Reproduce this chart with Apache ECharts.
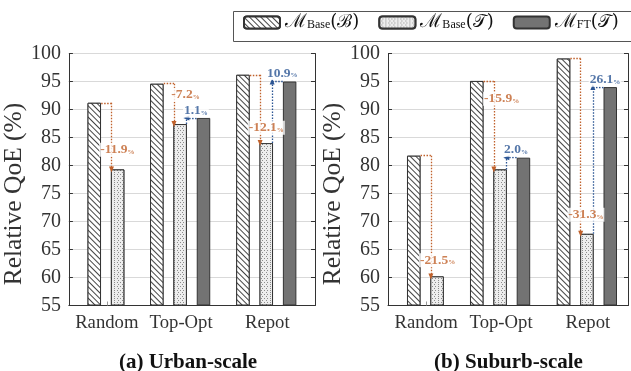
<!DOCTYPE html>
<html><head><meta charset="utf-8">
<script src="https://cdn.jsdelivr.net/npm/echarts@6/dist/echarts.min.js"></script>
<style>html,body{margin:0;padding:0;background:#fff}#c{width:631px;height:371px}</style>
</head><body><div id="c"></div>
<script>
// ---------- data ----------
const categories = ['Random', 'Top-Opt', 'Repot'];
const seriesNames = ['ℳBase(ℬ)', 'ℳBase(𝒯)', 'ℳFT(𝒯)'];
const yMin = 55, yMax = 100, yStep = 5;
// (a) Urban-scale
const urbanBaseB = [91.2, 94.6, 96.2];
const urbanBaseT = [79.3, 87.4, 84.0];
const urbanFT    = [null, 88.5, 95.0];
const urbanDrop  = ['-11.9', '-7.2', '-12.1'];
const urbanGain  = [null, '1.1', '10.9'];
// (b) Suburb-scale
const suburbBaseB = [81.75, 95.1, 99.1];
const suburbBaseT = [60.2, 79.3, 67.8];
const suburbFT    = [null, 81.4, 94.0];
const suburbDrop  = ['-21.5', '-15.9', '-31.3'];
const suburbGain  = [null, '2.0', '26.1'];

// ---------- layout (not data) ----------
const UNIT = 24.8;                 // px per x-unit
const groupPos = [1.98, 4.52, 8.02];
const labelPos = [1.54, 4.56, 8.06];
const dropLabelAt = [[[1.97, 82.8], [4.74, 92.6], [8.02, 86.75]], [[2.0, 63.1], [4.58, 91.9], [7.98, 71.2]]];
const gainLabelAt = [[null, [5.16, 89.8], [8.67, 96.5]], [null, [5.16, 82.8], [8.75, 95.3]]];
const SERIF = 'Liberation Serif';
const ORANGE = '#c0612b', BLUE = '#2b5594', INK = '#333';

const hatchDecal = {symbol: 'rect', symbolSize: 1, color: '#444', backgroundColor: '#fff',
  dashArrayX: [1, 0], dashArrayY: [1, 2.5], rotation: Math.PI / 4};
const dotDecal = {symbol: 'rect', symbolSize: 1, color: '#8c8c8c', backgroundColor: '#ededed',
  dashArrayX: [[1, 2], [0, 1.5, 1, 0.5]], dashArrayY: [1, 0.6]};

const panels = [
  {B: urbanBaseB, T: urbanBaseT, F: urbanFT, drop: urbanDrop, gain: urbanGain,
   title: '(a) Urban-scale', left: 67, width: 248, titleX: 183},
  {B: suburbBaseB, T: suburbBaseT, F: suburbFT, drop: suburbDrop, gain: suburbGain,
   title: '(b) Suburb-scale', left: 388, width: 240, titleX: 503.5}
];

const grids = [], xAxes = [], yAxes = [], series = [], titles = [];
const nearestCat = v => {
  let bi = 0; labelPos.forEach((p, i) => { if (Math.abs(p - v) < Math.abs(labelPos[bi] - v)) bi = i; });
  return categories[bi];
};

panels.forEach((P, p) => {
  grids.push({left: P.left, top: 53.5, width: P.width, height: 252});
  xAxes.push({type: 'value', gridIndex: p, min: 0, max: P.width / UNIT,
    axisLine: {show: true, onZero: false, lineStyle: {color: INK, width: 1}},
    splitLine: {show: false},
    axisTick: {show: true, inside: true, length: 4, customValues: labelPos, lineStyle: {color: '#999'}},
    axisLabel: {customValues: labelPos, formatter: v => nearestCat(v), fontFamily: SERIF,
      fontSize: 18.7, color: INK, margin: 8}});
  yAxes.push({type: 'value', gridIndex: p, position: 'left', min: yMin, max: yMax, interval: yStep,
    startValue: yMin,
    name: 'Relative QoE (%)', nameLocation: 'middle', nameGap: 40,
    nameTextStyle: {fontFamily: SERIF, fontSize: 25.5, color: INK, padding: [0, 29, 0, 0]},
    axisLine: {show: true, lineStyle: {color: INK, width: 1}},
    axisTick: {show: true, inside: true, length: 4, lineStyle: {color: INK}},
    axisLabel: {fontFamily: SERIF, fontSize: 20, color: INK, margin: 8},
    splitLine: {show: true, lineStyle: {color: '#d9d9d9', width: 1}}});
  yAxes.push({type: 'value', gridIndex: p, position: 'right', min: yMin, max: yMax, interval: yStep,
    startValue: yMin,
    axisLine: {show: true, lineStyle: {color: INK, width: 1}},
    axisTick: {show: true, inside: true, length: 4, lineStyle: {color: INK}},
    axisLabel: {show: false}, splitLine: {show: false}});

  const yi = 2 * p;
  const pts = arr => arr.map((v, i) => [groupPos[i], v]).filter(d => d[1] != null);
  const barCommon = {type: 'bar', xAxisIndex: p, yAxisIndex: yi, barWidth: 13.5, barGap: '73%',
    silent: true, animation: false};
  series.push(Object.assign({}, barCommon, {name: seriesNames[0], data: pts(P.B),
    itemStyle: {color: '#fff', borderColor: INK, borderWidth: 1, decal: hatchDecal}}));
  series.push(Object.assign({}, barCommon, {name: seriesNames[1], data: pts(P.T),
    itemStyle: {color: '#ededed', borderColor: INK, borderWidth: 1, decal: dotDecal}}));
  series.push(Object.assign({}, barCommon, {name: seriesNames[2], data: pts(P.F),
    itemStyle: {color: '#737373', borderColor: INK, borderWidth: 1}}));

  // annotation arrows (data coords)
  const seg = (a, b, arrow) => [{coord: a, symbol: 'none'}, {coord: b, symbol: arrow ? 'triangle' : 'none'}];
  const orangeLines = [], blueLines = [];
  groupPos.forEach((c, i) => {
    const B = P.B[i], T = P.T[i], F = P.F[i];
    orangeLines.push(seg([c - 0.669, B], [c - 0.25, B], false));
    orangeLines.push(seg([c - 0.25, B], [c - 0.25, T], true));
    if (F != null) {
      if (i === 1) {
        blueLines.push(seg([c + 0.25, T], [c + 0.25, F], false));
        blueLines.push(seg([c + 0.669, F], [c + 0.25, F], true));
      } else {
        blueLines.push(seg([c + 0.669, F], [c + 0.24, F], false));
        blueLines.push(seg([c + 0.24, T], [c + 0.24, F], true));
      }
    }
  });
  const mk = (color, data) => ({type: 'line', xAxisIndex: p, yAxisIndex: yi, data: [], silent: true,
    animation: false, z: 3,
    markLine: {silent: true, animation: false, symbolSize: [5, 6], label: {show: false},
      lineStyle: {color: color, width: 1.3, type: [1.5, 1.5]},
      emphasis: {disabled: true}, data: data}});
  series.push(mk(ORANGE, orangeLines));
  series.push(mk(BLUE, blueLines));

  const lbl = (color, items) => ({type: 'scatter', xAxisIndex: p, yAxisIndex: yi, silent: true,
    animation: false, symbolSize: 1, itemStyle: {color: 'rgba(0,0,0,0)'}, z: 20, zlevel: 0,
    data: items,
    label: {show: true, position: 'inside', formatter: q => '{v|' + q.name + '}{u|%}',
      backgroundColor: '#fff', padding: [0, 1, 0, 1],
      rich: {v: {fontFamily: SERIF, fontWeight: 'bold', fontSize: 13.5, color: color},
             u: {fontFamily: SERIF, fontWeight: 'bold', fontSize: 7, color: color, verticalAlign: 'bottom', padding: [0, 0, 1, 0]}}}});
  series.push(lbl(ORANGE, P.drop.map((t, i) => ({name: t, value: dropLabelAt[p][i]}))));
  series.push(lbl(BLUE, P.gain.map((t, i) => t == null ? null : ({name: t, value: gainLabelAt[p][i]})).filter(Boolean)));

  titles.push({text: P.title, left: P.titleX, top: 347, textAlign: 'center',
    textStyle: {fontFamily: SERIF, fontWeight: 'bold', fontSize: 21, color: '#111'}});
});

const legendRich = {
  m: {fontFamily: 'DejaVu Serif', fontSize: 19, color: '#111'},
  s: {fontFamily: SERIF, fontSize: 12, color: '#111', verticalAlign: 'bottom', padding: [0, 0, 1, 0]},
  p: {fontFamily: 'DejaVu Serif', fontSize: 18, color: '#111'}
};

const chart = echarts.init(document.getElementById('c'), null, {renderer: 'canvas'});
chart.setOption({
  animation: false,
  backgroundColor: '#fff',
  title: titles,
  grid: grids, xAxis: xAxes, yAxis: yAxes, series: series,
  legend: {data: seriesNames, left: 243, top: 13, padding: 0, itemWidth: 36, itemHeight: 12, itemGap: 19,
    selectedMode: false,
    formatter: n => {
      const k = n.indexOf('(');
      return '{m|' + n[0] + '}{s|' + n.slice(1, k) + '}{p|' + n.slice(k) + '}';
    },
    textStyle: {rich: legendRich}},
  graphic: [{type: 'rect', shape: {x: 233.5, y: 11.5, width: 420, height: 30},
    style: {fill: 'none', stroke: '#555', lineWidth: 1}, silent: true}]
});
</script></body></html>
